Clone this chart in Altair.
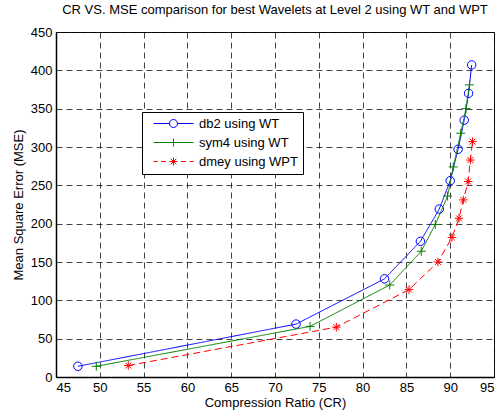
import altair as alt
import pandas as pd

series_names = ["db2 using WT", "sym4 using WT", "dmey using WPT"]
series_colors = ["#0000FF", "#008000", "#FF0000"]

db2_cr = [47.5, 72.4, 82.5, 86.6, 88.75, 90.0, 90.9, 91.6, 92.1, 92.45]
db2_mse = [14, 69, 128, 177, 219, 256, 297, 335, 370, 407]

sym4_cr = [49.6, 74.0, 83.1, 86.7, 88.3, 89.7, 90.35, 91.2, 91.8, 92.2]
sym4_mse = [14, 66, 120, 164, 199, 236, 274, 318, 350, 381]

dmey_cr = [53.25, 77.0, 85.3, 88.6, 90.2, 91.0, 91.5, 92.05, 92.3, 92.55]
dmey_mse = [15, 65, 114, 150, 182, 207, 231, 255, 283, 307]

x_ticks = [45, 50, 55, 60, 65, 70, 75, 80, 85, 90, 95]
y_ticks = [0, 50, 100, 150, 200, 250, 300, 350, 400, 450]

rows = []
for name, xs, ys in zip(series_names, [db2_cr, sym4_cr, dmey_cr], [db2_mse, sym4_mse, dmey_mse]):
    for i, (a, b) in enumerate(zip(xs, ys)):
        rows.append({"series": name, "cr": a, "mse": b, "order": i})
df = pd.DataFrame(rows)

FONT = "Liberation Sans"
FS = 13

circle_path = "M-1,0A1,1,0,1,1,1,0A1,1,0,1,1,-1,0Z"
plus_path = "M-1,0L1,0M0,-1L0,1"
star_path = "M-1,0L1,0M0,-1L0,1M-0.7,-0.7L0.7,0.7M-0.7,0.7L0.7,-0.7"
marker_paths = [circle_path, plus_path, star_path]
marker_sizes = [72, 80, 72]

# legend glyphs: line segment with the marker in the middle (scaled by 5 px per unit)
legend_paths = [
    "M-4,0L-0.8,0M0.8,0L4,0M-0.8,0A0.8,0.8,0,1,1,0.8,0A0.8,0.8,0,1,1,-0.8,0Z",
    "M-4,0L4,0M0,-0.8L0,0.8",
    "M-4,0L-3.2,0M-2.5,0L-1.5,0M1.5,0L2.5,0M3.2,0L4,0"
    "M-0.8,0L0.8,0M0,-0.8L0,0.8M-0.56,-0.56L0.56,0.56M-0.56,0.56L0.56,-0.56",
]

xscale = alt.Scale(domain=[45, 95], nice=False, zero=False)
yscale = alt.Scale(domain=[0, 450], nice=False, zero=False)

grid_kw = dict(grid=True, gridColor="#111111", gridDash=[6, 4], gridWidth=0.8, gridOpacity=1)
xaxis = alt.Axis(values=x_ticks, title="Compression Ratio (CR)", tickSize=0,
                 labelPadding=4, titlePadding=2, format="d", **grid_kw)
yaxis = alt.Axis(values=y_ticks, title="Mean Square Error (MSE)", tickSize=0,
                 labelPadding=4, titlePadding=5, format="d", **grid_kw)

base = alt.Chart(df)
layers = []
dashes = [[1, 0], [1, 0], [7, 4]]
for name, col, dash, path, sz in zip(series_names, series_colors, dashes, marker_paths, marker_sizes):
    sub = base.transform_filter(alt.datum.series == name)
    line = sub.mark_line(color=col, strokeWidth=1, strokeDash=dash).encode(
        x=alt.X("cr:Q", scale=xscale, axis=xaxis),
        y=alt.Y("mse:Q", scale=yscale, axis=yaxis),
        order="order:Q",
    )
    pts = sub.mark_point(shape=path, color=col, size=sz, strokeWidth=1, filled=False, opacity=1).encode(
        x=alt.X("cr:Q", scale=xscale, axis=xaxis),
        y=alt.Y("mse:Q", scale=yscale, axis=yaxis),
    )
    layers += [line, pts]

legend = alt.Legend(
    title=None, orient="none", legendX=86, legendY=80,
    fillColor="white", strokeColor="black", padding=5,
    labelFont=FONT, labelFontSize=FS, labelColor="black", labelOffset=19,
    symbolSize=100, symbolOffset=20, symbolStrokeWidth=1, symbolOpacity=1, rowPadding=5,
)
leg = base.mark_point(opacity=0, filled=False).encode(
    x=alt.X("cr:Q", scale=xscale, axis=xaxis),
    y=alt.Y("mse:Q", scale=yscale, axis=yaxis),
    shape=alt.Shape("series:N", scale=alt.Scale(domain=series_names, range=legend_paths), legend=legend),
    color=alt.Color("series:N", scale=alt.Scale(domain=series_names, range=series_colors), legend=legend),
)
layers.append(leg)

chart = alt.layer(*layers).properties(
    width=438, height=345,
    background="white",
    title=alt.TitleParams("CR VS. MSE comparison for best Wavelets at Level 2 using WT and WPT",
                          font=FONT, fontSize=FS, fontWeight="normal", color="black",
                          anchor="middle", offset=9),
    autosize=alt.AutoSizeParams(type="none"),
    padding={"left": 56, "top": 32, "right": 5, "bottom": 37},
).configure_view(
    stroke="black", strokeWidth=1
).configure_axis(
    labelFont=FONT, labelFontSize=FS, labelColor="black",
    titleFont=FONT, titleFontSize=FS, titleColor="black", titleFontWeight="normal",
    domainColor="black", domainWidth=1.5,
)

chart.save("out.html", embed_options={"renderer": "svg", "actions": False})
